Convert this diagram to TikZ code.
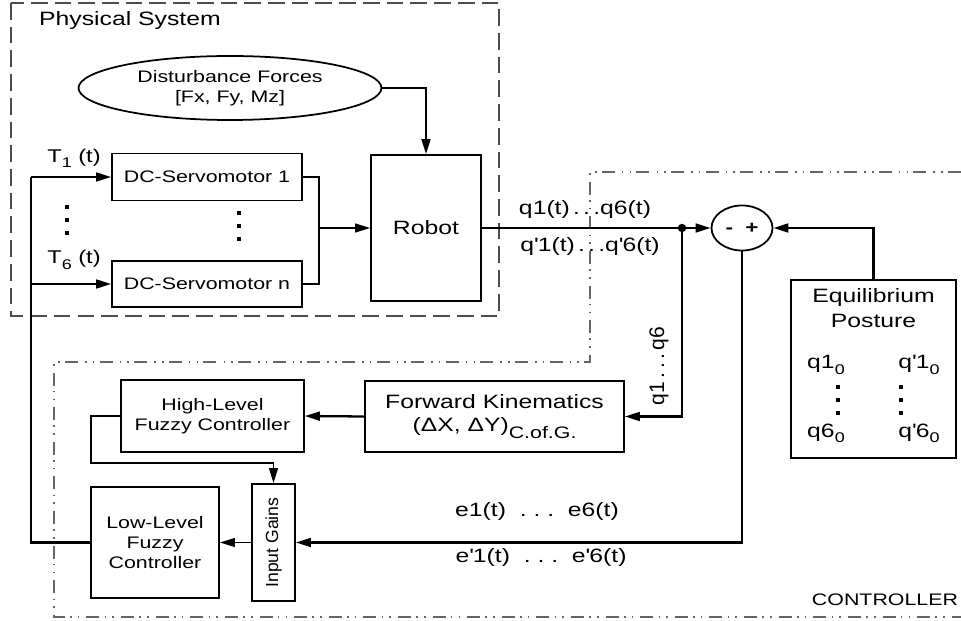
\documentclass[tikz,border=0pt]{standalone}
\usepackage{fontspec}
\setmainfont[FakeStretch=1.28]{Liberation Sans}
\newfontfamily\plainsans{Liberation Sans}
\usetikzlibrary{arrows.meta}
\usetikzlibrary{shapes.geometric}
\newcommand{\lowsub}[1]{\raisebox{-3pt}{\fontsize{8}{9}\selectfont #1}}
\newcommand{\qprime}{\textquotesingle}
\tikzset{
    blk/.style={draw, line width=1pt, align=center, inner sep=0pt},
    sig/.style={line width=1.3pt, -{Triangle[length=8.5pt,width=5pt]}},
    thinsig/.style={line width=0.9pt, -{Triangle[length=8.5pt,width=5pt]}},
    physbox/.style={draw=black!70, line width=1.1pt, dash pattern=on 9.5pt off 4pt},
    ctrlbox/.style={draw=black!60, line width=1.1pt, dash pattern=on 7.4pt off 3pt on 0.9pt off 3.5pt on 0.9pt off 4pt},
    smalltxt/.style={font=\fontsize{9.5}{11.6}\selectfont},
    largetxt/.style={font=\fontsize{11}{13}\selectfont}
}

\begin{document}
\begin{tikzpicture}[x=0.02cm, y=-0.02cm]
\useasboundingbox (0,0) rectangle (961,621);

% frames
\draw[physbox] (11,3) rectangle (499,316);
\draw[ctrlbox] (961,172) -- (590,172) -- (590,362) -- (54,362) -- (54,617) -- (961,617);
\node[largetxt, anchor=west] (physlbl) at (33,21) {Physical System};
\node[smalltxt] (ctrllbl) at (885,600) {CONTROLLER};

% physical system
\node[blk, ellipse, smalltxt, minimum width=6.06cm, minimum height=1.28cm] (dist) at (230,88) {Disturbance Forces\\{}[Fx, Fy, Mz]};
\node[blk, largetxt, minimum width=2.2cm, minimum height=2.92cm] (robot) at (426,228) {Robot};
\node[blk, smalltxt, minimum width=3.8cm, minimum height=0.94cm] (srv1) at (207,177) {DC-Servomotor 1};
\node[blk, smalltxt, minimum width=3.8cm, minimum height=0.92cm] (srvn) at (207,284) {DC-Servomotor n};
\node[font=\fontsize{10.5}{12}\selectfont] (t1lbl) at (74,158) {T\lowsub{1} (t)};
\node[font=\fontsize{10.5}{12}\selectfont] (t6lbl) at (74,260) {T\lowsub{6} (t)};
\foreach \x/\y in {67/207, 67/220, 67/233, 239/213, 239/226, 239/239}{
    \fill (\x-1.7,\y-1.7) rectangle (\x+1.7,\y+1.7);
}

% controller
\node[blk, ellipse, minimum width=1.22cm, minimum height=0.9cm] (sum) at (742,228) {\bfseries -\hspace{7pt}+};
\node[blk, minimum width=3.3cm, minimum height=3.56cm] (eq) at (873.5,369) {};
\node[largetxt] (eqlbl) at (873.5,298) {Equilibrium};
\node[largetxt] (postlbl) at (873.5,321) {Posture};
\node[largetxt] (q10) at (826,365) {q1\lowsub{0}};
\node[largetxt] (dq10) at (919,365) {q\qprime1\lowsub{0}};
\node[largetxt] (q60) at (826,433) {q6\lowsub{0}};
\node[largetxt] (dq60) at (919,433) {q\qprime6\lowsub{0}};
\foreach \x in {838, 901}{
    \foreach \y in {387, 400, 413}{
        \fill (\x-1.7,\y-1.7) rectangle (\x+1.7,\y+1.7);
    }
}
\node[blk, largetxt, minimum width=5.18cm, minimum height=1.42cm] (fk) at (494.5,416.5) {Forward Kinematics\\(ΔX, ΔY)\raisebox{-4pt}{\fontsize{9.5}{11}\selectfont C.of.G.}};
\node[blk, smalltxt, minimum width=3.66cm, minimum height=1.44cm] (hl) at (212.5,416) {High-Level\\Fuzzy Controller};
\node[blk, minimum width=0.86cm, minimum height=2.34cm] (ig) at (273.5,542.5) {};
\node[rotate=90, font=\plainsans\fontsize{10}{12}\selectfont] (iglbl) at (ig.center) {Input Gains};
\node[blk, smalltxt, minimum width=2.56cm, minimum height=2.22cm] (ll) at (155,542.5) {Low-Level\\Fuzzy\\Controller};

% signal labels
\node[largetxt] (qlbl) at (585,210) {q1(t)\,.\,.\,.q6(t)};
\node[largetxt] (dqlbl) at (590,247) {q\qprime1(t)\,.\,.\,.q\qprime6(t)};
\node[rotate=90, font=\plainsans\fontsize{12}{14}\selectfont] (qfklbl) at (659,366) {q1\,.\,.\,.\,q6};
\node[largetxt] (elbl) at (537,512) {e1(t)\ \ .\ .\ .\ \ e6(t)};
\node[largetxt] (delbl) at (541,558) {e\qprime1(t)\ \ .\ .\ .\ \ e\qprime6(t)};

% connections
\coordinate (mrg) at (319,228);
\coordinate (tbus1) at (31,177);
\coordinate (tbus6) at (31,284);
\coordinate (jq) at (682,228);
\coordinate (hlturn) at (91,463);
\draw[sig] (dist.east) -| (robot.north);
\draw[line width=0.9pt] (srv1.east) -| (mrg) |- (srvn.east);
\draw[thinsig] (mrg) -- (robot.west);
\draw[line width=1.3pt] (ll.west) -| (tbus1);
\draw[sig] (tbus1) -- (srv1.west);
\draw[sig] (tbus6) -- (srvn.west);
\draw[sig] (robot.east) -- (sum.west);
\fill (jq) circle (2.4pt);
\draw[sig] (jq) |- (fk.east);
\draw[sig] (eq.north) |- (sum.east);
\draw[sig] (sum.south) |- (ig.east);
\draw[sig] (fk.west) -- (hl.east);
\draw[thinsig] (hl.west) -| (hlturn) -| (ig.north);
\draw[thinsig] (ig.west) -- (ll.east);
\end{tikzpicture}
\end{document}
